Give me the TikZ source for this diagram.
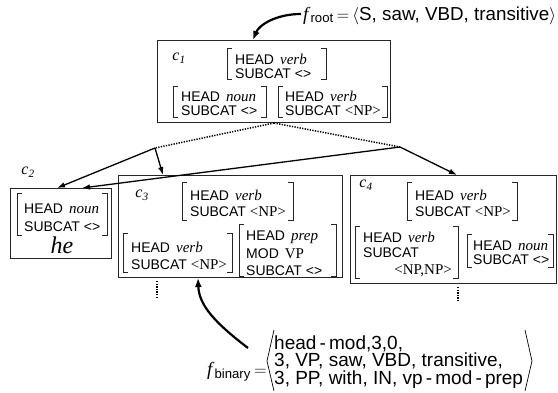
\documentclass[tikz,border=0pt]{standalone}
\usepackage{fontspec}
\setmainfont{Liberation Serif}
\setsansfont{Liberation Sans}
\usetikzlibrary{arrows.meta}
\newcommand\hd[1]{HEAD\hspace{6pt}{\rmfamily\itshape\fontsize{15}{15}\selectfont #1}}
\newcommand\rmv[1]{{\rmfamily\fontsize{15}{15}\selectfont #1}}
\newcommand\clab[1]{\textit{c}\textsubscript{\textit{#1}}}
\newcommand\avmbrk[4]{%
  \draw[brk] ({#1+5},#2) -- (#1,#2) -- (#1,#4) -- ({#1+5},#4);
  \draw[brk] ({#3-5},#2) -- (#3,#2) -- (#3,#4) -- ({#3-5},#4);}
\tikzset{
  box/.style={draw=black!85, line width=1pt, inner sep=0pt, anchor=north west},
  avm/.style={anchor=base west, inner sep=0pt, font=\sffamily\fontsize{14}{16}\selectfont},
  lbl/.style={anchor=center, inner sep=0pt, font=\fontsize{16}{16}\selectfont},
  brk/.style={line width=0.8pt, black!85},
  conn/.style={line width=1.3pt, -{Latex[length=8pt,width=5.5pt]}},
  dots/.style={line width=1.5pt, dash pattern=on 1.3pt off 1.3pt},
  bigarrow/.style={line width=2.2pt, -{Latex[length=9pt,width=7pt]}},
  ftext/.style={anchor=base west, inner sep=0pt, font=\fontsize{18.8}{18.8}\selectfont},
  frow/.style={anchor=base west, inner sep=0pt, font=\sffamily\fontsize{19}{19}\selectfont},
}
\begin{document}
\begin{tikzpicture}[x=1pt,y=-1pt]
\useasboundingbox (0,0) rectangle (558,392);
% boxes
\node[box, minimum width=233pt, minimum height=82pt] (c1) at (157,40) {};
\node[box, minimum width=101pt, minimum height=70pt] (c2) at (10,188) {};
\node[box, minimum width=224pt, minimum height=102pt] (c3) at (118,175) {};
\node[box, minimum width=206pt, minimum height=108pt] (c4) at (350,175) {};
% labels
\node[lbl] (l1) at (179,58) {\clab{1}};
\node[lbl] (l2) at (28,172) {\clab{2}};
\node[lbl] (l3) at (142,195) {\clab{3}};
\node[lbl] (l4) at (366,185) {\clab{4}};
% c1
\avmbrk{227}{48}{326}{79}
\node[avm] (a1h) at (235,64.5) {\hd{verb}};
\node[avm] (a1s) at (235,78) {SUBCAT <>};
\avmbrk{173}{86}{266}{117}
\node[avm] (b1h) at (181,101) {\hd{noun}};
\node[avm] (b1s) at (181,115) {SUBCAT <>};
\avmbrk{278}{86}{387}{117}
\node[avm] (d1h) at (285,101) {\hd{verb}};
\node[avm] (d1s) at (285,115) {SUBCAT \rmv{<NP>}};
% c2
\avmbrk{17}{193}{107}{235}
\node[avm] (a2h) at (24,213) {\hd{noun}};
\node[avm] (a2s) at (24,231) {SUBCAT <>};
\node[anchor=base, inner sep=0pt, font=\fontsize{24}{24}\selectfont\itshape] (he) at (62,253) {he};
% c3
\avmbrk{182}{182}{293}{220}
\node[avm] (a3h) at (190,200.5) {\hd{verb}};
\node[avm] (a3s) at (190,216.5) {SUBCAT \rmv{<NP>}};
\avmbrk{123}{233}{232}{272}
\node[avm] (b3h) at (131,252) {\hd{verb}};
\node[avm] (b3s) at (131,269) {SUBCAT \rmv{<NP>}};
\avmbrk{239}{224}{336}{276}
\node[avm] (d3h) at (246,240.5) {\hd{prep}};
\node[avm] (d3m) at (246,258) {MOD\hspace{6pt}\rmv{VP}};
\node[avm] (d3s) at (246,275) {SUBCAT <>};
% c4
\avmbrk{407}{182}{517}{220}
\node[avm] (a4h) at (415,200.5) {\hd{verb}};
\node[avm] (a4s) at (415,216.5) {SUBCAT \rmv{<NP>}};
\avmbrk{355}{226}{458}{278}
\node[avm] (b4h) at (363,242) {\hd{verb}};
\node[avm] (b4s) at (363,257) {SUBCAT};
\node[avm, anchor=base east] (b4n) at (452,274) {\rmv{<NP,NP>}};
\avmbrk{467}{234}{553}{267}
\node[avm] (d4h) at (473,250) {\hd{noun}};
\node[avm] (d4s) at (473,264.5) {SUBCAT <>};
% connectors
\coordinate (c1b) at ([xshift=117pt]c1.south west);
\coordinate (j1) at (155,148);
\coordinate (j2) at (400,147);
\draw[dots] (c1b) -- (j1);
\draw[dots] (c1b) -- (j2);
\draw[conn] (j1) -- ([xshift=45pt]c3.north west);
\draw[conn] (j1) -- ([xshift=47pt]c2.north west);
\draw[conn] (j2) -- ([xshift=107pt]c4.north west);
\draw[conn] (j2) -- ([xshift=72pt]c2.north west);
\draw[dots] ([xshift=39pt,yshift=-3pt]c3.south west) -- ++(0,18);
\draw[dots] ([xshift=108pt,yshift=-3pt]c4.south west) -- ++(0,14);
% f_root
\node[ftext] (froot) at (303,20) {\textit{f}\textsubscript{\sffamily root}\,$=$\,$\langle$\sffamily S, saw, VBD, transitive$\rangle$};
\coordinate (frs) at (301,14);
\draw[bigarrow] (frs) .. controls (276,14) and (259,25) .. ([xshift=96pt]c1.north west);
% f_binary
\node[ftext] (fbl) at (207,375) {\textit{f}\textsubscript{\sffamily binary}\,$=$};
\node[frow] (fb1) at (274,349) {head\,-\,mod,3,0,};
\node[frow] (fb2) at (274,366.5) {3, VP, saw, VBD, transitive,};
\node[frow] (fb3) at (274,384) {3, PP, with, IN, vp\,-\,mod\,-\,prep};
\draw[line width=0.7pt] (274,330) -- (267,361) -- (274,391);
\draw[line width=0.7pt] (525,330) -- (532,361) -- (525,391);
\coordinate (fbs) at (248,348);
\draw[bigarrow] (fbs) .. controls (214,322) and (199,305) .. ([xshift=80pt]c3.south west);
\end{tikzpicture}
\end{document}
